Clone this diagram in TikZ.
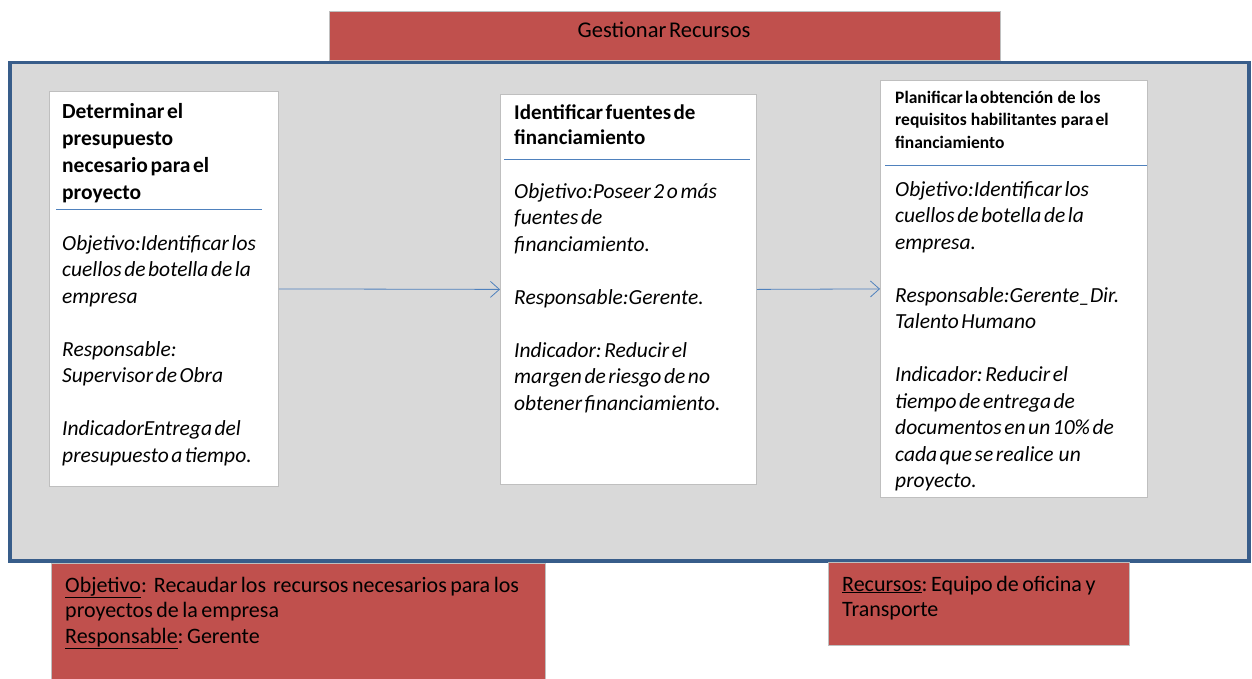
\documentclass[tikz,border=0pt]{standalone}
\usepackage{fontspec}
\setmainfont{Carlito}
\usetikzlibrary{arrows.meta}
\newcommand\tightspace{\frenchspacing\spaceskip=0.12em plus 0.05em minus 0.03em\relax}
\newcommand\redspace{\frenchspacing\spaceskip=0.16em plus 0.05em minus 0.03em\relax}
\definecolor{redbox}{HTML}{C0504D}
\definecolor{frameblue}{HTML}{385D8A}
\definecolor{linkblue}{HTML}{4F81BD}
\definecolor{greyfill}{HTML}{D9D9D9}
\definecolor{boxedge}{HTML}{BFBFBF}
\tikzset{
  x=1pt, y=-1pt,
  card/.style={draw=boxedge, line width=0.8pt, fill=white, anchor=north west, inner sep=0pt},
  redcard/.style={draw=boxedge, line width=0.8pt, fill=redbox, anchor=north west, inner sep=0pt},
  tight/.style={execute at begin node=\tightspace},
  bodytext/.style={tight, anchor=base west, inner sep=0pt, align=left, font=\fontsize{21.5}{26.5}\selectfont\itshape},
  titletext/.style={tight, anchor=base west, inner sep=0pt, align=left, font=\fontsize{21.5}{27}\selectfont\bfseries},
  smalltitle/.style={tight, anchor=base west, inner sep=0pt, align=left, font=\fontsize{17.5}{22.5}\selectfont\bfseries},
  redtext/.style={execute at begin node=\redspace, anchor=base west, inner sep=0pt, align=left, font=\fontsize{22}{25.5}\selectfont},
  sepline/.style={draw=linkblue, line width=0.8pt},
  flow/.style={draw=linkblue, line width=0.8pt, -{Straight Barb[length=9pt,width=16pt]}}
}
\begin{document}
\begin{tikzpicture}
\useasboundingbox (0,0) rectangle (1252,678);
% frame
\draw[fill=greyfill, draw=frameblue, line width=3.5pt] (10,62.5) rectangle (1249,561);
% top title
\node[redcard, minimum width=671pt, minimum height=49pt] (top) at (329,11) {};
\node[tight, font=\fontsize{22.5}{26}\selectfont, inner sep=0pt, anchor=base] (toptext) at (664,37) {Gestionar Recursos};
% cards
\node[card, minimum width=229pt, minimum height=395pt] (b1) at (49,91) {};
\node[card, minimum width=256pt, minimum height=390pt] (b2) at (500,94) {};
\node[card, minimum width=267pt, minimum height=417pt] (b3) at (880,80) {};
% card 1
\node[titletext, text width=210pt] (t1) at (62,118) {Determinar el\\ presupuesto\\ necesario para el\\ proyecto};
\coordinate (s1a) at (56,209); \coordinate (s1b) at (262,209);
\draw[sepline] (s1a) -- (s1b);
\node[bodytext, text width=215pt] (d1) at (62,250) {Objetivo:Identificar los\\ cuellos de botella de la\\ empresa\\[26.5pt] Responsable:\\ Supervisor de Obra\\[26.5pt] IndicadorEntrega del\\ presupuesto a tiempo.};
% card 2
\node[titletext, text width=240pt, font=\fontsize{21}{25}\selectfont\bfseries] (t2) at (514,119) {Identificar fuentes de\\ financiamiento};
\coordinate (s2a) at (504,159); \coordinate (s2b) at (750,159);
\draw[sepline] (s2a) -- (s2b);
\node[bodytext, text width=240pt] (d2) at (514,198) {Objetivo:Poseer 2 o más\\ fuentes de\\ financiamiento.\\[26.5pt] Responsable:Gerente.\\[26.5pt] Indicador: Reducir el\\ margen de riesgo de no\\ obtener financiamiento.};
% card 3
\node[smalltitle, text width=250pt] (t3) at (895,103) {Planificar la obtención\ \ de\ \ los\\ requisitos\ \ habilitantes\ \ para el\\ financiamiento};
\coordinate (s3a) at (885,165); \coordinate (s3b) at (1147,165);
\draw[sepline] (s3a) -- (s3b);
\node[bodytext, text width=250pt] (d3) at (895,196) {Objetivo:Identificar los\\ cuellos de botella de la\\ empresa.\\[26.5pt] Responsable:Gerente\_Dir.\\ Talento Humano\\[26.5pt] Indicador: Reducir el\\ tiempo de entrega de\\ documentos en un 10\% de\\ cada que se realice\ \ un\\ proyecto.};
% connectors
\draw[flow] (b1.east) -- (b2.west);
\draw[flow] (b2.east) -- (b3.west);
% bottom boxes
\node[redcard, minimum width=494pt, minimum height=120pt] (obj) at (51,563) {};
\node[redtext, text width=480pt] (objtext) at (65,592) {\underline{Objetivo}:\ \ Recaudar los\ \ recursos necesarios para los\\ proyectos de la empresa\\ \underline{Responsable}: Gerente};
\node[redcard, minimum width=301pt, minimum height=83pt] (rec) at (828,562) {};
\node[redtext, text width=290pt] (rectext) at (842,591) {\underline{Recursos}: Equipo de oficina y\\ Transporte};
\end{tikzpicture}
\end{document}
